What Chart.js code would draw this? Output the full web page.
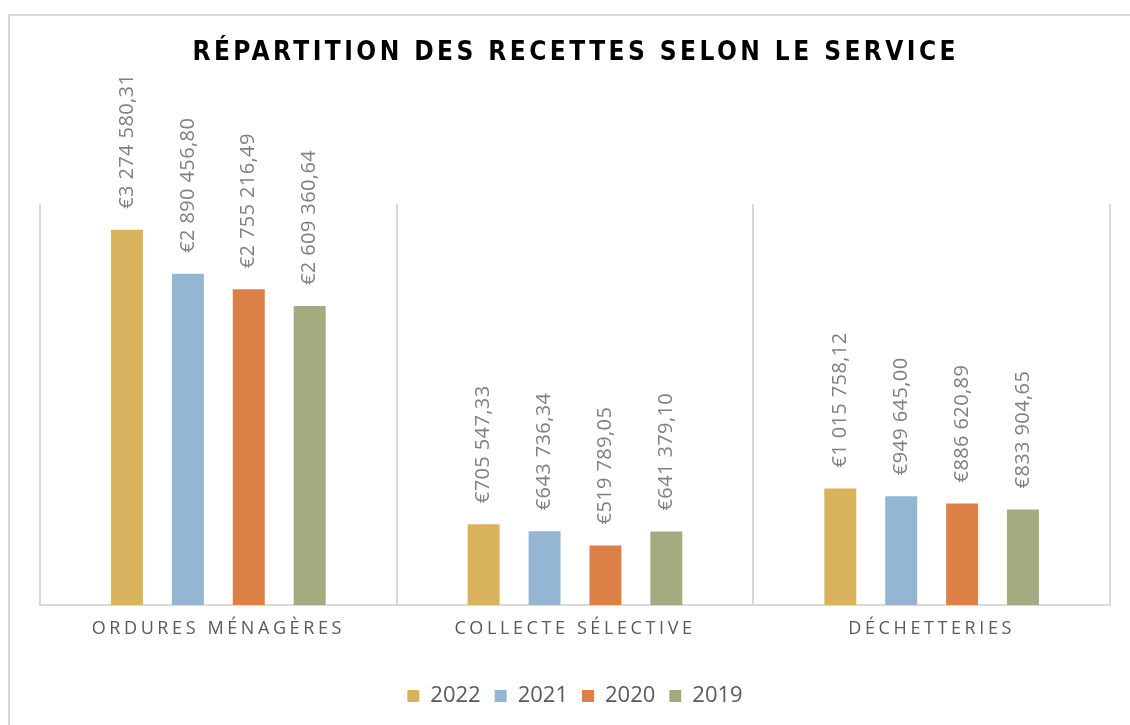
<!DOCTYPE html>
<html lang="fr">
<head>
<meta charset="utf-8">
<title>Répartition des recettes selon le service</title>
<script src="https://cdn.jsdelivr.net/npm/chart.js@4"></script>
<style>
    html, body { margin: 0; padding: 0; background: #fff; overflow: hidden; }
    #cadre { position: absolute; left: 8px; top: 14px; width: 1300px; height: 900px; border: 2px solid #d9d9d9; }
    #zone { position: absolute; left: 0; top: 0; width: 1130px; height: 725px; }
</style>
</head>
<body>
<div id="cadre"></div>
<div id="zone"><canvas id="grafRecettes"></canvas></div>
<script>
const titre = 'RÉPARTITION DES RECETTES SELON LE SERVICE';
const services = ['ORDURES MÉNAGÈRES', 'COLLECTE SÉLECTIVE', 'DÉCHETTERIES'];
const annees = ['2022', '2021', '2020', '2019'];
const recettes2022 = [3274580.31, 705547.33, 1015758.12];
const recettes2021 = [2890456.80, 643736.34, 949645.00];
const recettes2020 = [2755216.49, 519789.05, 886620.89];
const recettes2019 = [2609360.64, 641379.10, 833904.65];
const couleurs = ['#d8b25c', '#94b6d2', '#dd8047', '#a5ab81'];
const maxY = 3500000;

const police = '"Open Sans", "DejaVu Sans", sans-serif';

// format "€3 274 580,31"
function euro(v) {
    const [ent, dec] = v.toFixed(2).split('.');
    return '€' + ent.replace(/\B(?=(\d{3})+(?!\d))/g, ' ') + ',' + dec;
}

// étiquettes verticales au-dessus des barres + titre espacé
const pluginValeurs = {
    id: 'valeurs',
    beforeDraw(chart) {
        chart.ctx.letterSpacing = '0px';
    },
    afterDatasetsDraw(chart) {
        const ctx = chart.ctx;
        chart.data.datasets.forEach((ds, i) => {
            const meta = chart.getDatasetMeta(i);
            meta.data.forEach((bar, j) => {
                ctx.save();
                ctx.translate(bar.x, bar.y - 21);
                ctx.rotate(-Math.PI / 2);
                ctx.font = '20px ' + police;
                ctx.letterSpacing = '0.4px';
                ctx.fillStyle = '#808080';
                ctx.textAlign = 'left';
                ctx.textBaseline = 'middle';
                ctx.fillText(euro(ds.data[j]), 0, 0);
                ctx.restore();
            });
        });
        // les libellés de l'axe X sont dessinés juste après (ticks.z = 1)
        ctx.letterSpacing = '3.6px';
    },
    afterDraw(chart) {
        const ctx = chart.ctx;
        ctx.save();
        ctx.letterSpacing = '0px';
        ctx.font = 'bold 26px "Liberation Sans Narrow", "DejaVu Sans Condensed", "Liberation Sans", sans-serif';
        const w = ctx.measureText(titre).width;
        const cible = 763;
        const esp = Math.max(0, (cible - w) / (titre.length - 1));
        ctx.letterSpacing = esp + 'px';
        ctx.fillStyle = '#000000';
        ctx.textAlign = 'left';
        ctx.textBaseline = 'alphabetic';
        ctx.fillText(titre, 574 - cible / 2, 60);
        ctx.restore();
        ctx.letterSpacing = '0px';
    }
};

const ctx = document.getElementById('grafRecettes').getContext('2d');
new Chart(ctx, {
    type: 'bar',
    data: {
        labels: services,
        datasets: [
            { label: annees[0], data: recettes2022, backgroundColor: couleurs[0] },
            { label: annees[1], data: recettes2021, backgroundColor: couleurs[1] },
            { label: annees[2], data: recettes2020, backgroundColor: couleurs[2] },
            { label: annees[3], data: recettes2019, backgroundColor: couleurs[3] }
        ]
    },
    options: {
        responsive: true,
        maintainAspectRatio: false,
        animation: false,
        categoryPercentage: 0.683,
        barPercentage: 0.525,
        layout: {
            padding: { top: 204, left: 40, right: 20, bottom: 8 }
        },
        plugins: {
            title: { display: false },
            tooltip: { enabled: false },
            legend: {
                position: 'bottom',
                labels: {
                    color: '#595959',
                    boxWidth: 12,
                    boxHeight: 12,
                    padding: 14,
                    font: { family: police, size: 22 }
                }
            }
        },
        scales: {
            y: {
                display: false,
                min: 0,
                max: maxY
            },
            x: {
                afterFit(scale) { scale.height = 66; },
                grid: {
                    color: '#d9d9d9',
                    lineWidth: 2,
                    drawTicks: false,
                    offset: true
                },
                border: { color: '#d9d9d9', width: 2 },
                ticks: {
                    z: 1,
                    padding: 13,
                    color: '#595959',
                    font: { family: police, size: 18 },
                    maxRotation: 0
                }
            }
        }
    },
    plugins: [pluginValeurs]
});
</script>
</body>
</html>
